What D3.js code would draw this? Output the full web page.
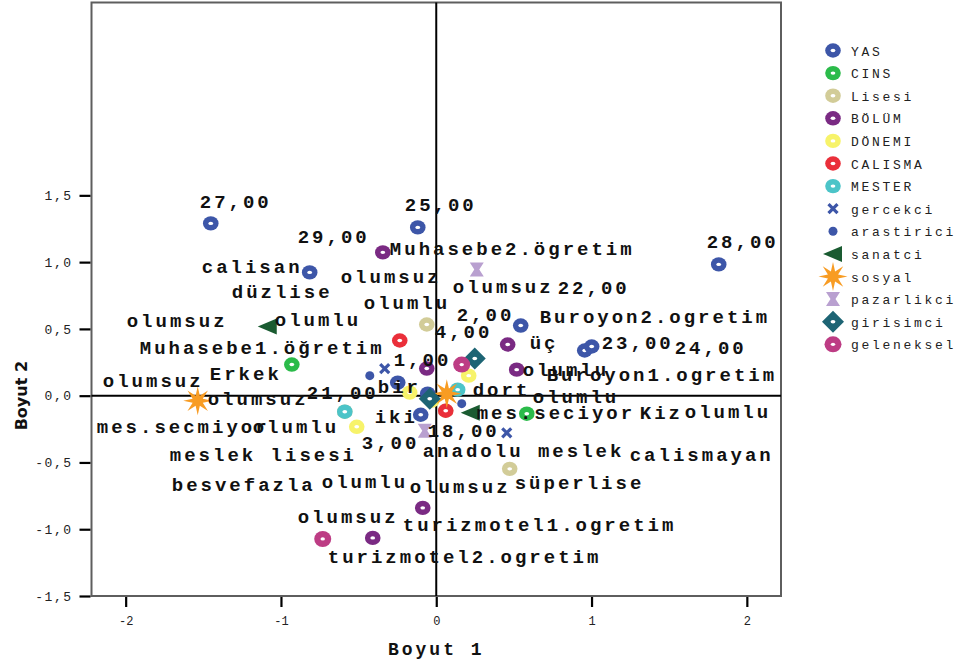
<!DOCTYPE html>
<html>
<head>
<meta charset="utf-8">
<script src="https://cdn.jsdelivr.net/npm/d3@7"></script>
<style>
body { margin: 0; background: #fff; }
.lbl { font-family: "Liberation Mono", "Courier New", monospace; font-weight: bold; font-size: 19px; letter-spacing: 3px; fill: #111; }
.tick text { font-family: "Liberation Mono", "Courier New", monospace; fill: #222; }
.leg { font-family: "Liberation Mono", "Courier New", monospace; font-size: 13px; letter-spacing: 2.7px; fill: #222; }
</style>
</head>
<body>
<svg width="956" height="664"></svg>
<script>
// variables in legend order
var variables = ["YAS", "CINS", "Lisesi", "BÖLÜM", "DÖNEMI", "CALISMA", "MESTER",
  "gercekci", "arastirici", "sanatci", "sosyal", "pazarlikci", "girisimci", "geleneksel"];

// category quantifications (Boyut 1, Boyut 2)
var yasCats = ["27,00", "25,00", "29,00", "28,00", "22,00", "23,00", "24,00", "21,00", "18,00", ""];
var yasDim1 = [-1.452, -0.119, -0.815, 1.819, 0.544, 0.956, 1.001, -0.248, -0.100, -0.055];
var yasDim2 = [1.290, 1.260, 0.923, 0.983, 0.525, 0.338, 0.368, 0.098, -0.143, 0.015];

var cinsCats = ["Erkek", "Kiz"];
var cinsDim1 = [-0.930, 0.583];
var cinsDim2 = [0.233, -0.135];

var liseCats = ["düzlise", "süperlise", "anadolu meslek", "meslek lisesi"];
var liseDim1 = [-0.061, 0.473, 0.061, -0.589];
var liseDim2 = [0.533, -0.548, -0.113, -0.120];

var bolumCats = ["Muhasebe2.ögretim", "Muhasebe1.öğretim", "Buroyon2.ogretim", "Buroyon1.ogretim", "turizmotel1.ogretim", "turizmotel2.ogretim"];
var bolumDim1 = [-0.344, -0.061, 0.460, 0.518, -0.087, -0.409];
var bolumDim2 = [1.073, 0.203, 0.383, 0.195, -0.840, -1.065];

var donemCats = ["1,00", "2,00", "3,00", "4,00"];
var donemDim1 = [-0.171, 0.209, -0.512, -0.029];
var donemDim2 = [0.023, 0.150, -0.233, -0.038];

var calismaCats = ["calisan", "calismayan"];
var calismaDim1 = [-0.235, 0.061];
var calismaDim2 = [0.413, -0.113];

var mesterCats = ["mes.secmiyor", "mes.seciyor"];
var mesterDim1 = [-0.589, 0.138];
var mesterDim2 = [-0.120, 0.045];

var tutumCats = ["olumsuz", "olumlu"];
var gercekciDim1 = [-0.332, 0.454],   gercekciDim2 = [0.203, -0.278];
var arastiriciDim1 = [-0.428, 0.164], arastiriciDim2 = [0.150, -0.060];
var sanatciDim1 = [0.222, -1.085],    sanatciDim2 = [-0.128, 0.518];
var sosyalDim1 = [-1.536, 0.068],     sosyalDim2 = [-0.038, 0.015];
var pazarlikciDim1 = [0.261, -0.074], pazarlikciDim2 = [0.945, -0.263];
var girisimciDim1 = [-0.042, 0.248],  girisimciDim2 = [-0.023, 0.278];
var gelenekselDim1 = [-0.731, 0.164], gelenekselDim2 = [-1.073, 0.233];

// categories whose markers are covered by others, only the label shows
var coveredCats = ["bir", "iki", "üç", "dort", "besvefazla"];
var coveredDim1 = [-0.299, -0.319, 0.679, 0.312, -1.626];
var coveredDim2 = [-0.090, -0.315, 0.240, -0.113, -0.825];

var xTicks = [-2, -1, 0, 1, 2];
var yTicks = [-1.5, -1.0, -0.5, 0.0, 0.5, 1.0, 1.5];

// ---- layout ----
var svg = d3.select("svg");
var plotLeft = 91.5, plotRight = 781, plotTop = 2.5, plotBottom = 596;

var xScale = d3.scaleLinear().domain([-2.22, 2.22]).range([plotLeft, plotRight]);
var yScale = d3.scaleLinear().domain([-1.5, 2.944]).range([plotBottom, plotTop]);

var loc = d3.formatLocale({decimal: ",", thousands: ".", grouping: [3], currency: ["", ""], minus: "-"});

var styles = {
  "YAS":        {shape: "ring", color: "#3d56a8"},
  "CINS":       {shape: "ring", color: "#2bbb4a"},
  "Lisesi":     {shape: "ring", color: "#d2cc98"},
  "BÖLÜM":      {shape: "ring", color: "#7a2a83"},
  "DÖNEMI":     {shape: "ring", color: "#f7f36a"},
  "CALISMA":    {shape: "ring", color: "#ea2f3a"},
  "MESTER":     {shape: "ring", color: "#4cc4c8"},
  "gercekci":   {shape: "cross", color: "#3d56a8"},
  "arastirici": {shape: "dot", color: "#3d56a8"},
  "sanatci":    {shape: "triangle", color: "#1a5b31"},
  "sosyal":     {shape: "star", color: "#f89c23"},
  "pazarlikci": {shape: "hourglass", color: "#b9a0d0"},
  "girisimci":  {shape: "diamond", color: "#1d6474"},
  "geleneksel": {shape: "bigring", color: "#bd3c84"}
};

// label nudges in pixels from the point (SPSS moves labels around to avoid overlap)
var defaultNudge = [-12, -15];
var nudges = {
  "YAS|27,00": [-11, -15], "YAS|25,00": [-13, -16], "YAS|29,00": [-12, -29], "YAS|28,00": [-12, -16],
  "YAS|22,00": [37, -32], "YAS|23,00": [17, -2], "YAS|24,00": [83, 7], "YAS|21,00": [-91, 16], "YAS|18,00": [7, 22],
  "CINS|Erkek": [-82, 15], "CINS|Kiz": [113, 5],
  "Lisesi|düzlise": [-195, -26], "Lisesi|süperlise": [5, 20], "Lisesi|anadolu meslek": [-23, 46], "Lisesi|meslek lisesi": [-175, 49],
  "BÖLÜM|Muhasebe2.ögretim": [7, 3], "BÖLÜM|Muhasebe1.öğretim": [-287, -15], "BÖLÜM|Buroyon2.ogretim": [32, -22],
  "BÖLÜM|Buroyon1.ogretim": [30, 11], "BÖLÜM|turizmotel1.ogretim": [-20, 23], "BÖLÜM|turizmotel2.ogretim": [-45, 25],
  "DÖNEMI|1,00": [-16, -27], "DÖNEMI|2,00": [-12, -55], "DÖNEMI|3,00": [5, 22], "DÖNEMI|4,00": [3, -63],
  "CALISMA|calisan": [-198, -68], "CALISMA|calismayan": [184, 50],
  "MESTER|mes.secmiyor": [-248, 21], "MESTER|mes.seciyor": [19, 29],
  "gercekci|olumsuz": [-44, -86], "gercekci|olumlu": [178, -15],
  "arastirici|olumsuz": [-267, 11], "arastirici|olumlu": [-209, 29],
  "sanatci|olumsuz": [-61, 80], "sanatci|olumlu": [7, 0],
  "sosyal|olumsuz": [10, 4], "sosyal|olumlu": [86, 9],
  "pazarlikci|olumsuz": [-24, 24], "pazarlikci|olumlu": [-103, 57],
  "girisimci|olumsuz": [-303, -72], "girisimci|olumlu": [-111, -50],
  "geleneksel|olumsuz": [-25, -16], "geleneksel|olumlu": [61, 11]
};

var sources = [
  ["YAS", yasCats, yasDim1, yasDim2],
  ["CINS", cinsCats, cinsDim1, cinsDim2],
  ["Lisesi", liseCats, liseDim1, liseDim2],
  ["BÖLÜM", bolumCats, bolumDim1, bolumDim2],
  ["DÖNEMI", donemCats, donemDim1, donemDim2],
  ["CALISMA", calismaCats, calismaDim1, calismaDim2],
  ["MESTER", mesterCats, mesterDim1, mesterDim2],
  ["gercekci", tutumCats, gercekciDim1, gercekciDim2],
  ["arastirici", tutumCats, arastiriciDim1, arastiriciDim2],
  ["sanatci", tutumCats, sanatciDim1, sanatciDim2],
  ["sosyal", tutumCats, sosyalDim1, sosyalDim2],
  ["pazarlikci", tutumCats, pazarlikciDim1, pazarlikciDim2],
  ["girisimci", tutumCats, girisimciDim1, girisimciDim2],
  ["geleneksel", tutumCats, gelenekselDim1, gelenekselDim2]
];

var points = [];
sources.forEach(function(s) {
  s[1].forEach(function(c, i) {
    points.push({v: s[0], cat: c, d1: s[2][i], d2: s[3][i]});
  });
});
var covered = coveredCats.map(function(c, i) { return {v: "", cat: c, d1: coveredDim1[i], d2: coveredDim2[i]}; });

// ---- marker shapes ----
function starPath(n, r1, r2) {
  var p = [];
  for (var i = 0; i < n * 2; i++) {
    var a = Math.PI * i / n - Math.PI / 2;
    var r = i % 2 ? r2 : r1;
    p.push([Math.cos(a) * r, Math.sin(a) * r]);
  }
  return "M" + p.map(function(q) { return q[0].toFixed(2) + "," + q[1].toFixed(2); }).join("L") + "Z";
}

function drawMarker(g, st) {
  var c = st.color;
  if (st.shape == "ring" || st.shape == "bigring") {
    var big = st.shape == "bigring";
    g.append("ellipse").attr("rx", big ? 8.5 : 7.8).attr("ry", big ? 8 : 7.2).attr("fill", c);
    g.append("ellipse").attr("rx", big ? 2.2 : 2.4).attr("ry", big ? 1.6 : 1.7).attr("fill", "#fff");
  } else if (st.shape == "dot") {
    g.append("circle").attr("r", 4.5).attr("fill", c);
  } else if (st.shape == "cross") {
    g.append("path").attr("d", "M-4.5,-4.5L4.5,4.5M-4.5,4.5L4.5,-4.5")
      .attr("stroke", c).attr("stroke-width", 3.2).attr("fill", "none");
  } else if (st.shape == "triangle") {
    g.append("path").attr("d", "M-10,0L9,-8L9,8Z").attr("fill", c);
  } else if (st.shape == "star") {
    g.append("path").attr("d", starPath(8, 14.5, 5.5)).attr("fill", c);
  } else if (st.shape == "hourglass") {
    g.append("path").attr("d", "M-7,-7L7,-7L2.5,0L7,7L-7,7L-2.5,0Z").attr("fill", c);
  } else if (st.shape == "diamond") {
    g.append("path").attr("d", "M0,-11L11,0L0,11L-11,0Z").attr("fill", c);
    g.append("ellipse").attr("rx", 2.4).attr("ry", 1.8).attr("fill", "#fff");
  }
}

// ---- frame, zero lines, axes ----
svg.append("rect").attr("width", 956).attr("height", 664).attr("fill", "#fff");

svg.append("rect")
  .attr("x", plotLeft).attr("y", plotTop)
  .attr("width", plotRight - plotLeft).attr("height", plotBottom - plotTop)
  .attr("fill", "none").attr("stroke", "#5e5e5e").attr("stroke-width", 2);

svg.append("line")
  .attr("x1", plotLeft).attr("x2", plotRight)
  .attr("y1", yScale(0)).attr("y2", yScale(0))
  .attr("stroke", "#000").attr("stroke-width", 2);
svg.append("line")
  .attr("x1", xScale(0)).attr("x2", xScale(0))
  .attr("y1", plotTop).attr("y2", plotBottom)
  .attr("stroke", "#000").attr("stroke-width", 2);

var yAxis = svg.append("g")
  .attr("transform", "translate(" + (plotLeft - 1) + ",0)")
  .call(d3.axisLeft(yScale).tickValues(yTicks).tickSize(11).tickPadding(7).tickFormat(loc.format(".1f")));
yAxis.select(".domain").remove();
yAxis.selectAll("line").attr("stroke", "#000").attr("stroke-width", 2.2);
yAxis.selectAll("text").style("font-size", "13px").style("letter-spacing", "1.5px");

var xAxis = svg.append("g")
  .attr("transform", "translate(0," + (plotBottom + 1) + ")")
  .call(d3.axisBottom(xScale).tickValues(xTicks).tickSize(10).tickPadding(9).tickFormat(loc.format("d")));
xAxis.select(".domain").remove();
xAxis.selectAll("line").attr("stroke", "#000").attr("stroke-width", 2.2);
xAxis.selectAll("text").style("font-size", "12px");

svg.append("text")
  .attr("class", "lbl")
  .attr("x", xScale(0)).attr("y", 655)
  .attr("text-anchor", "middle")
  .style("font-size", "18px")
  .text("Boyut 1");

svg.append("text")
  .attr("transform", "translate(27," + yScale(0) + ") rotate(-90)")
  .attr("text-anchor", "middle")
  .style("font-family", "'DejaVu Sans', Verdana, sans-serif")
  .style("font-weight", "bold")
  .style("font-size", "16px")
  .attr("fill", "#111")
  .text("Boyut 2");

// ---- points ----
var marks = svg.append("g");
marks.selectAll("g.pt")
  .data(points)
  .enter()
  .append("g")
  .attr("class", "pt")
  .attr("transform", function(d) { return "translate(" + xScale(d.d1) + "," + yScale(d.d2) + ")"; })
  .each(function(d) { drawMarker(d3.select(this), styles[d.v]); });

// ---- labels ----
var labelled = points.filter(function(d) { return d.cat != ""; }).concat(covered);
svg.append("g").selectAll("text")
  .data(labelled)
  .enter()
  .append("text")
  .attr("class", "lbl")
  .attr("x", function(d) { var n = nudges[d.v + "|" + d.cat] || defaultNudge; return xScale(d.d1) + n[0]; })
  .attr("y", function(d) { var n = nudges[d.v + "|" + d.cat] || defaultNudge; return yScale(d.d2) + n[1]; })
  .text(function(d) { return d.cat; });

// ---- legend ----
var legend = svg.append("g").attr("transform", "translate(833,50.5)");
var rows = legend.selectAll("g")
  .data(variables)
  .enter()
  .append("g")
  .attr("transform", function(d, i) { return "translate(0," + (i * 22.6) + ")"; });
rows.each(function(d) { drawMarker(d3.select(this), styles[d]); });
rows.append("text")
  .attr("class", "leg")
  .attr("x", 18).attr("y", 5)
  .text(function(d) { return d; });
</script>
</body>
</html>
